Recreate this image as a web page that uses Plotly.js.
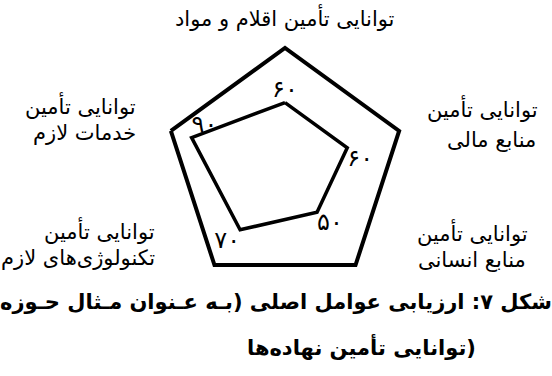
<!DOCTYPE html>
<html>
<head>
<meta charset="utf-8">
<script src="https://cdn.plot.ly/plotly-3.0.1.min.js"></script>
<style>html,body{margin:0;padding:0;background:#fff;}#chart{width:552px;height:376px;}</style>
</head>
<body>
<div id="chart"></div>
<script>
// ---- data ----
var categories = [
  'توانایی تأمین اقلام و مواد',
  'توانایی تأمین منابع مالی',
  'توانایی تأمین منابع انسانی',
  'توانایی تأمین تکنولوژی‌های لازم',
  'توانایی تأمین خدمات لازم'
];
var values = [60, 60, 50, 70, 90];
var captionLine1 = 'شکل ۷: ارزیابی عوامل اصلی (بـه عـنوان مـثال حـوزه';
var captionLine2 = 'توانایی تأمین نهاده‌ها)';

// ---- helpers ----
function fa(n){ return String(n).replace(/\d/g, function(d){ return '۰۱۲۳۴۵۶۷۸۹'[+d]; }); }
function splitLabel(s){
  var w = s.split(' ');
  return [w.slice(0,2).join(' '), w.slice(2).join(' ')];
}

var W = 552, H = 376;
var cx = 285, cy = 168, R = 120;
function px(x){ return x / W; }
function py(y){ return 1 - y / H; }

var font = 'DejaVu Sans';

var trace = {
  type: 'scatterpolar',
  r: values.concat([values[0]]),
  theta: categories.concat([categories[0]]),
  mode: 'lines+text',
  line: {color: '#000', width: 3.5},
  text: values.map(fa).concat(['']),
  textposition: ['top center', 'bottom right', 'bottom right', 'bottom left', 'top right', 'top center'],
  textfont: {family: font, size: 24, color: '#000'},
  hoverinfo: 'skip',
  cliponaxis: false
};

var ann = [];
function addText(t, x, y, xanchor, size, bold){
  ann.push({
    text: bold ? '<b>' + t + '</b>' : t,
    x: px(x), y: py(y), xref: 'paper', yref: 'paper',
    xanchor: xanchor, yanchor: 'middle', showarrow: false,
    font: {family: font, size: size, color: '#000'}
  });
}
var LS = 21;
// axis labels
addText(categories[0], 285, 18, 'center', LS);
var l1 = splitLabel(categories[1]);
addText(l1[0], 540, 108, 'right', LS);
addText(l1[1], 538, 140, 'right', LS);
var l2 = splitLabel(categories[2]);
addText(l2[0], 472, 232, 'center', LS);
addText(l2[1], 472, 260, 'center', LS);
var l3 = splitLabel(categories[3]);
addText(l3[0], 157, 230, 'right', LS);
addText(l3[1], 157, 258, 'right', LS);
var l4 = splitLabel(categories[4]);
addText(l4[0], 138, 105, 'right', LS);
addText(l4[1], 138, 133, 'right', LS);
// caption
addText(captionLine1, 276, 302, 'center', 21, true);
addText(captionLine2, 361, 346, 'center', 21, true);

var layout = {
  width: W, height: H,
  margin: {l: 0, r: 0, t: 0, b: 0},
  paper_bgcolor: '#fff',
  showlegend: false,
  polar: {
    domain: {x: [px(cx - R), px(cx + R)], y: [py(cy + R), py(cy - R)]},
    bgcolor: '#fff',
    gridshape: 'linear',
    radialaxis: {visible: false, range: [0, 110], showgrid: false},
    angularaxis: {
      rotation: 90, direction: 'clockwise',
      showline: true, linecolor: '#000', linewidth: 4,
      showgrid: false, ticks: '', showticklabels: false
    }
  },
  annotations: ann
};

Plotly.newPlot('chart', [trace], layout, {staticPlot: true, displayModeBar: false});
</script>
</body>
</html>
